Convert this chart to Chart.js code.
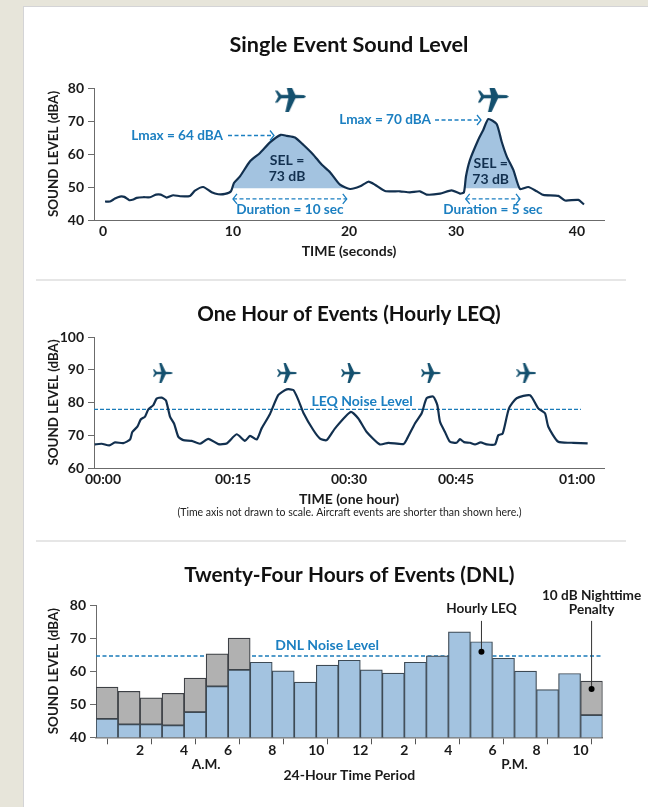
<!DOCTYPE html>
<html lang="en">
<head>
<meta charset="UTF-8">
<title>Single Event, Hourly LEQ and DNL Sound Levels</title>
<script src="https://cdn.jsdelivr.net/npm/chart.js"></script>
<style>
  html, body { margin: 0; height: 807px; overflow: hidden; background: #e7e5da; }
  .card { position: absolute; left: 23px; top: 6px; width: 640px; height: 820px; background: #fff; border: 1px solid #d4d4d6; }
  .rule { position: absolute; left: 36px; width: 590px; height: 2px; background: #e6e6e6; }
  canvas { position: absolute; left: 40px; }
</style>
</head>
<body>
<div class="card"></div>
<div class="rule" style="top:279px"></div>
<div class="rule" style="top:540px"></div>
<canvas id="sel" width="608" height="240" style="top:20px"></canvas>
<canvas id="leq" width="608" height="240" style="top:289px"></canvas>
<canvas id="dnl" width="608" height="252" style="top:555px"></canvas>
<script>
// first panel: seconds, dBA
const selTime = [0.17,0.59,1.01,1.43,1.8,2.22,2.56,2.84,3.4,3.97,4.47,4.87,5.37,5.93,6.5,7.34,7.76,8.46,9.17,9.73,10.3,10.8,11.05,11.56,12.41,13.25,14.09,15,15.5,16.2,16.9,17.75,18.45,19.16,20,20.84,21.7,22.39,22.95,23.8,25.06,25.9,26.75,27.3,28.44,29.42,30.13,30.46,30.63,30.97,31.67,32.09,32.52,33.22,33.64,34.07,34.63,35.19,35.89,36.6,37.16,38.42,38.99,40.11,40.59];
const selLevel = [45.6,45.6,46.5,47.1,47,46,46.2,46.7,46.9,46.9,47.7,47.7,46.8,47.5,47.2,47.3,48.9,50,48.4,47.8,47.9,48.7,51.2,53.2,57.8,60.3,63.5,65.8,65.5,65,62.8,59.8,56.8,54.5,50.7,49.4,50.2,51.6,50.7,48.8,48.7,48.4,48.7,47.7,48,49,48,48.4,53.2,58.2,64.3,67.3,70.6,69.1,63.8,59.3,55.2,49.4,50,48.7,47.6,47.3,45.9,46.1,44.7];
const selTickPos = [0,10.97,20.76,29.79,40];
const selTickLabels = ['0','10','20','30','40'];
const selPlanes = [{x:15.84,y:77.4},{x:32.94,y:77.4}];
const selFloor = 49.6;

// second panel: minutes, dBA
const leqTime = [-1.05,-0.17,0.8,1.52,2.57,3.42,3.71,4.35,4.77,5.32,5.74,6.37,6.79,7.43,7.97,8.48,8.99,9.54,10.17,11.22,12.28,13.33,14.6,15.66,16.92,17.97,18.61,19.45,20.08,21.14,22.2,23.25,24.09,24.72,25.36,26.62,27.47,28.31,29.37,31.35,32.32,33.38,35.06,36.12,38.02,38.44,39.49,40.34,40.97,41.81,42.32,42.66,43.29,43.92,44.77,45.19,45.7,46.46,47.09,47.81,48.57,49.62,50.04,50.59,51.39,52.36,54.05,55.1,55.95,56.37,57.63,59.53,61.35];
const leqLevel = [67.2,67.4,66.9,67.8,67.6,68.7,71,72.6,74.8,75.7,77.9,79.2,81.2,81.5,80.6,75.7,73.6,69.5,68.5,68.3,67.4,68.9,67.3,67.5,70.3,68.3,69.8,68.7,72.1,76.5,82.3,84,83.8,80.8,76.9,71.6,69,68.5,72.1,77.1,75.1,71,67.2,67.7,67.3,68.7,73.6,76.7,81.3,81.8,79.2,74.1,71,68,67.7,68.8,67.9,67.7,67.2,67.8,67.2,67.2,70,70.5,78.2,81.3,82.2,78.2,76.7,72.6,68,67.7,67.5];
const leqTickPos = [0,16.46,31.14,44.68,60];
const leqTickLabels = ['00:00','00:15','00:30','00:45','01:00'];
const leqPlanes = [{x:7.56,y:89},{x:23.3,y:89},{x:31.4,y:89},{x:41.5,y:89},{x:53.6,y:89}];
const leqNoise = 77.9;

// third panel: one bar per hour slot
const hourLevel = [45.6,43.9,43.9,43.6,47.6,55.4,60.4,62.7,60.1,56.7,61.8,63.3,60.4,59.4,62.7,64.6,71.9,68.9,63.9,60,54.4,59.3,46.7];
const nightPenalty = [9.6,10,8,9.7,10.3,9.8,9.6,null,null,null,null,null,null,null,null,null,null,null,null,null,null,null,10.3];
const hourEdges = [1,2,3,4,5,6,7,8,9,10,11,12,13,14,15,16,17,18,19,20,21,22,23];
const edgeLabels = ['','2','','4','','6','','8','','10','','12','','2','','4','','6','','8','','10',''];
const dnlNoise = 64.6;

const NAVY = '#12304f', BLUE = '#1b7fc1', FILL = '#a3c3e0', INK = '#1a1a1a';
const FONT = 'Lato, sans-serif';

// little plane stamp for the point style
function planeStamp(size) {
  const c = document.createElement('canvas');
  c.width = c.height = size;
  const g = c.getContext('2d');
  const h = size / 2;
  g.translate(h, h);
  g.scale(h, h);
  g.fillStyle = '#14506e';
  const top = [[1,0],[0.85,-0.09],[0.3,-0.12],[-0.12,-1],[-0.35,-1],[-0.15,-0.12],[-0.62,-0.12],[-0.85,-0.38],[-1,-0.38],[-0.8,0]];
  g.beginPath();
  top.forEach((p, i) => i ? g.lineTo(p[0], p[1]) : g.moveTo(p[0], p[1]));
  top.slice(1, -1).reverse().forEach(p => g.lineTo(p[0], -p[1]));
  g.closePath();
  g.fill();
  return c;
}

function planeSet(points, size) {
  return { type: 'line', data: points, showLine: false, pointStyle: planeStamp(size), pointRadius: 5, order: 0 };
}

function pairs(xs, ys) { return xs.map((x, i) => ({ x: x, y: ys[i] })); }

// the filled part under one event, cut off at the floor level
function selArea(from, to) {
  const pts = pairs(selTime, selLevel).filter(p => p.x > from && p.x < to);
  return {
    type: 'line', data: [{ x: from, y: selFloor }, ...pts, { x: to, y: selFloor }],
    borderWidth: 0, pointRadius: 0, tension: 0.25, backgroundColor: FILL, fill: { value: selFloor }, order: 3
  };
}

function axisY(min, max, width) {
  return {
    type: 'linear', min: min, max: max, position: 'left',
    afterFit: s => { s.width = width; },
    border: { color: '#6b6b6b', width: 1 },
    grid: { drawOnChartArea: false, tickLength: 6, tickColor: '#6b6b6b' },
    ticks: { stepSize: 10, padding: 4, color: INK, font: { family: FONT, size: 14, weight: 'bold' } },
    title: { display: true, text: 'SOUND LEVEL (dBA)', color: INK, padding: { top: 6, bottom: 0 }, font: { family: FONT, size: 13.4, weight: 'bold' } }
  };
}

function axisX(min, max, pos, labels, title, height, pad) {
  return {
    type: 'linear', min: min, max: max, position: 'bottom', offset: false,
    afterBuildTicks: s => { s.ticks = pos.map(v => ({ value: v })); },
    afterFit: s => { s.height = height; },
    border: { color: '#6b6b6b', width: 1 },
    grid: { display: false, drawTicks: false },
    ticks: { autoSkip: false, maxRotation: 0, padding: 3, color: INK, font: { family: FONT, size: 14, weight: 'bold' }, callback: (v, i) => labels[i] },
    title: { display: true, text: title, color: INK, padding: { top: 0, bottom: pad }, font: { family: FONT, size: 14, weight: 'bold' } }
  };
}

function titleOpts(text, size, top, bottom) {
  return {
    display: true, text: text, fullSize: false, color: '#111',
    padding: { top: top, bottom: bottom },
    font: { family: FONT, size: size, weight: 'bold', lineHeight: '24px' }
  };
}

// text, arrows and callouts, all placed in data units
const notesPlugin = {
  id: 'notes',
  afterDraw(chart, args, opts) {
    const g = chart.ctx, X = chart.scales.x, Y = chart.scales.y;
    g.save();
    (opts.arrows || []).forEach(a => {
      const x1 = X.getPixelForValue(a.from), x2 = X.getPixelForValue(a.to), y = Y.getPixelForValue(a.y);
      g.strokeStyle = BLUE;
      g.lineWidth = 1.3;
      g.setLineDash([4, 2.5]);
      g.beginPath(); g.moveTo(x1, y); g.lineTo(x2, y); g.stroke();
      g.setLineDash([]);
      g.beginPath();
      g.moveTo(x2 - 4, y - 5); g.lineTo(x2, y); g.lineTo(x2 - 4, y + 5);
      if (a.both) { g.moveTo(x1 + 4, y - 5); g.lineTo(x1, y); g.lineTo(x1 + 4, y + 5); }
      g.stroke();
    });
    (opts.callouts || []).forEach(c => {
      const x = X.getPixelForValue(c.x), y1 = Y.getPixelForValue(c.from), y2 = Y.getPixelForValue(c.to);
      g.strokeStyle = '#333';
      g.lineWidth = 1;
      g.beginPath(); g.moveTo(x, y1); g.lineTo(x, y2); g.stroke();
      g.fillStyle = '#000';
      g.beginPath(); g.arc(x, y2, 3, 0, Math.PI * 2); g.fill();
    });
    g.textBaseline = 'middle';
    (opts.texts || []).forEach(t => {
      g.font = (t.weight || 'bold') + ' ' + (t.size || 13.6) + 'px ' + FONT;
      g.fillStyle = t.color || INK;
      g.textAlign = t.align || 'center';
      g.fillText(t.text, X.getPixelForValue(t.x), Y.getPixelForValue(t.y));
    });
    g.restore();
  }
};

new Chart(document.getElementById('sel'), {
  type: 'line',
  data: {
    datasets: [
      planeSet(selPlanes, 31),
      { data: pairs(selTime, selLevel), borderColor: NAVY, borderWidth: 2.2, pointRadius: 0, tension: 0.2, order: 1 },
      selArea(10.87, 20.75),
      selArea(30.5, 35.15)
    ]
  },
  options: {
    responsive: false, animation: false,
    layout: { padding: { right: 44 } },
    scales: { x: axisX(-0.76, 42.28, selTickPos, selTickLabels, 'TIME (seconds)', 40, 0), y: axisY(40, 80, 54) },
    plugins: {
      legend: { display: false }, tooltip: { enabled: false },
      title: titleOpts('Single Event Sound Level', 21.6, 13, 31),
      notes: {
        arrows: [
          { from: 10.55, to: 14.43, y: 65.6 },
          { from: 28.02, to: 31.9, y: 70.3 },
          { from: 10.97, to: 20.57, y: 46.4, both: true },
          { from: 30.61, to: 35.19, y: 46.4, both: true }
        ],
        texts: [
          { text: 'Lmax = 64 dBA', x: 10.13, y: 65.5, align: 'right', color: BLUE },
          { text: 'Lmax = 70 dBA', x: 27.68, y: 70.3, align: 'right', color: BLUE },
          { text: 'SEL =', x: 15.53, y: 58, color: NAVY, size: 14 },
          { text: '73 dB', x: 15.53, y: 53.3, color: NAVY, size: 14 },
          { text: 'SEL =', x: 32.72, y: 57.1, color: NAVY, size: 14 },
          { text: '73 dB', x: 32.72, y: 52.4, color: NAVY, size: 14 },
          { text: 'Duration = 10 sec', x: 15.78, y: 43.3, color: BLUE },
          { text: 'Duration = 5 sec', x: 32.91, y: 43.3, color: BLUE }
        ]
      }
    }
  },
  plugins: [notesPlugin]
});

new Chart(document.getElementById('leq'), {
  type: 'line',
  data: {
    datasets: [
      planeSet(leqPlanes, 20),
      { data: pairs(leqTime, leqLevel), borderColor: NAVY, borderWidth: 2.2, pointRadius: 0, tension: 0.2, order: 1 },
      { data: [{ x: -1.14, y: leqNoise }, { x: 60.5, y: leqNoise }], borderColor: '#1a7bb9', borderWidth: 1.2, borderDash: [4, 2], pointRadius: 0, order: 2 }
    ]
  },
  options: {
    responsive: false, animation: false,
    layout: { padding: { right: 44, bottom: 21 } },
    scales: { x: axisX(-1.14, 63.42, leqTickPos, leqTickLabels, 'TIME (one hour)', 40, 0), y: axisY(60, 100, 54) },
    plugins: {
      legend: { display: false }, tooltip: { enabled: false },
      title: titleOpts('One Hour of Events (Hourly LEQ)', 20.6, 13, 11),
      notes: {
        texts: [
          { text: 'LEQ Noise Level', x: 32.8, y: 80.4, color: BLUE, size: 14 },
          { text: '(Time axis not drawn to scale. Aircraft events are shorter than shown here.)', x: 31.2, y: 46.3, weight: 'normal', size: 10.5, color: '#222' }
        ]
      }
    }
  },
  plugins: [notesPlugin]
});

const dnlX = axisX(0, 23, hourEdges, edgeLabels, '24-Hour Time Period', 47, 0.2);
dnlX.stacked = true;
dnlX.grid = { drawOnChartArea: false, drawTicks: true, tickLength: 7, tickColor: c => (c.tick && c.tick.value % 2 ? '#555' : 'rgba(0,0,0,0)') };
dnlX.ticks.padding = -2;
dnlX.border = { color: '#777', width: 1.5 };
const dnlY = axisY(40, 80, 56);
dnlY.stacked = true;

new Chart(document.getElementById('dnl'), {
  data: {
    datasets: [
      { type: 'bar', data: hourLevel.map((v, i) => ({ x: i + 0.5, y: v })), backgroundColor: FILL, borderColor: '#3d4a55', borderWidth: 1.2, borderSkipped: false, barPercentage: 1, categoryPercentage: 1, order: 1 },
      { type: 'bar', data: nightPenalty.map((v, i) => ({ x: i + 0.5, y: v })), backgroundColor: '#b1b1b1', borderColor: '#3d4045', borderWidth: 1.2, borderSkipped: false, barPercentage: 1, categoryPercentage: 1, order: 2 },
      { type: 'line', data: [{ x: 0, y: dnlNoise }, { x: 23, y: dnlNoise }], borderColor: '#1a7bb9', borderWidth: 1.5, borderDash: [4, 2.5], pointRadius: 0, order: 3 }
    ]
  },
  options: {
    responsive: false, animation: false,
    layout: { padding: { right: 45.4, bottom: 22.7 } },
    scales: { x: dnlX, y: dnlY },
    plugins: {
      legend: { display: false }, tooltip: { enabled: false },
      title: titleOpts('Twenty-Four Hours of Events (DNL)', 20.8, 8, 18),
      notes: {
        callouts: [
          { x: 17.5, from: 75.2, to: 65.9 },
          { x: 22.5, from: 75.2, to: 54.6 }
        ],
        texts: [
          { text: 'DNL Noise Level', x: 10.49, y: 67.7, color: BLUE, size: 14 },
          { text: 'Hourly LEQ', x: 17.5, y: 78.9 },
          { text: '10 dB Nighttime', x: 22.5, y: 82.9 },
          { text: 'Penalty', x: 22.5, y: 78.6 },
          { text: 'A.M.', x: 5, y: 31.8 },
          { text: 'P.M.', x: 19, y: 31.8 }
        ]
      }
    }
  },
  plugins: [notesPlugin]
});
</script>
</body>
</html>
